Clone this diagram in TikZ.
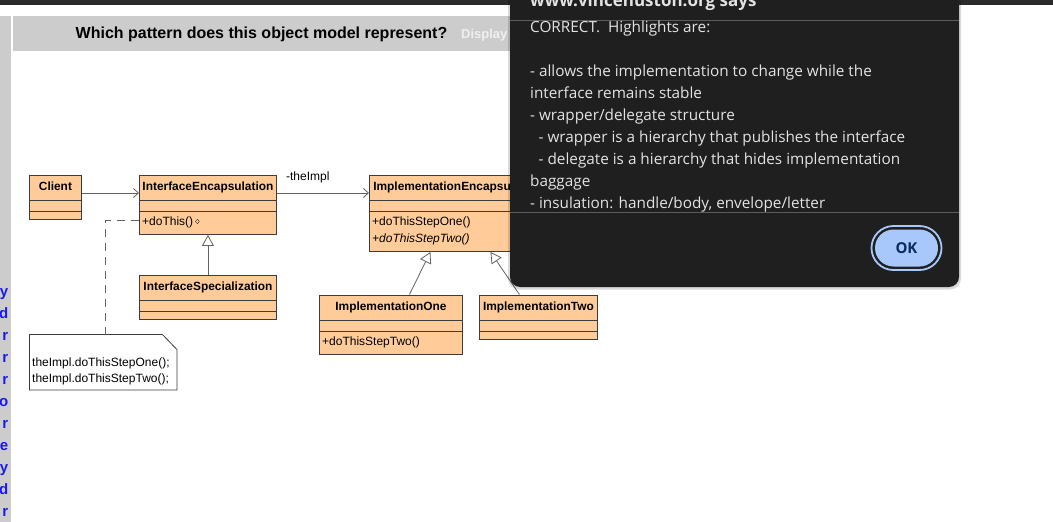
\documentclass[tikz,border=0pt]{standalone}
\usepackage{fontspec}
\setmainfont{Liberation Sans}
\newfontfamily\dlgfont{Open Sans}
\definecolor{BoxFill}{HTML}{FFCC99}
\definecolor{BoxLine}{HTML}{3C3C3C}
\definecolor{PageGray}{HTML}{CCCCCC}
\definecolor{TopBar}{HTML}{2B2B2B}
\definecolor{DlgBack}{HTML}{1F1F1F}
\definecolor{DlgText}{HTML}{E3E3E3}
\definecolor{DlgRule}{HTML}{5C5C5C}
\definecolor{OkBlue}{HTML}{A8C7FA}
\definecolor{OkText}{HTML}{0B2A5E}
\definecolor{LinkBlue}{HTML}{1A1AEE}
\usepackage{tikz}
\usetikzlibrary{arrows.meta, calc, shapes.misc}

\begin{document}
\begin{tikzpicture}[x=1pt, y=-1pt,
    classbox/.style={draw=BoxLine, fill=BoxFill, line width=0.9pt, inner sep=0pt, anchor=north west},
    classname/.style={font=\fontsize{11.9}{13}\selectfont\bfseries, anchor=base, inner sep=0pt},
    member/.style={font=\fontsize{12}{14}\selectfont, anchor=base west, inner sep=0pt},
    assoc/.style={draw=BoxLine!80, line width=0.8pt, -{Straight Barb[length=5pt, width=9pt]}},
    generalise/.style={draw=BoxLine!80, line width=0.8pt, -{Triangle[open, length=11pt, width=12pt]}},
    noteline/.style={draw=BoxLine!80, line width=0.8pt, dash pattern=on 8pt off 6pt},
    dlgline/.style={font=\dlgfont\fontsize{15.3}{18}\selectfont, text=DlgText, anchor=base west, inner sep=0pt}]
  \useasboundingbox (0,0) rectangle (1053,522);
  \clip (0,0) rectangle (1053,522);
  \fill[white] (0,0) rectangle (1053,522);

  % Page behind the dialog
  \fill[TopBar] (0,0) rectangle (1053,5);
  \fill[PageGray] (0,16) rectangle (11,522);
  \fill[PageGray] (13,16) rectangle (560,51);
  \node[font=\fontsize{16}{19}\selectfont\bfseries, anchor=base, inner sep=0pt] (question) at (261.5,38.7)
    {Which pattern does this object model represent?};
  \node[font=\fontsize{13}{15}\selectfont\bfseries, text=white!94!black, anchor=base west, inner sep=0pt] (display) at (461,38)
    {Display};
  \foreach \ch [count=\i from 0] in {y,d,r,r,r,o,r,e,y,d,r}
    \node[font=\fontsize{15}{17}\selectfont\bfseries, text=LinkBlue, anchor=base east, inner sep=0pt] (edge\i) at (8.5,296+22*\i) {\ch};

  % Classes
  \node[classbox, minimum width=52pt, minimum height=44.5pt] (client) at (29,174.5) {};
  \node[classbox, minimum width=137pt, minimum height=59.5pt] (ifenc) at (139,174.5) {};
  \node[classbox, minimum width=137pt, minimum height=44.5pt] (ifspec) at (139,274.5) {};
  \node[classbox, minimum width=177pt, minimum height=76.5pt] (implenc) at (369,174.5) {};
  \node[classbox, minimum width=143pt, minimum height=59.5pt] (implone) at (319,294.5) {};
  \node[classbox, minimum width=118pt, minimum height=44.5pt] (impltwo) at (479,294.5) {};
  \foreach \c in {client,ifenc,ifspec,implenc,implone,impltwo} {
    \draw[BoxLine, line width=0.9pt] ($(\c.north west)+(0,26)$) -- ($(\c.north east)+(0,26)$);
    \draw[BoxLine, line width=0.9pt] ($(\c.north west)+(0,37)$) -- ($(\c.north east)+(0,37)$);
  }
  \node[classname] (clientname) at ($(client.north)+(0,16.3)$) {Client};
  \node[classname] (ifencname) at ($(ifenc.north)+(0,16.3)$) {InterfaceEncapsulation};
  \node[classname] (ifspecname) at ($(ifspec.north)+(0,16.3)$) {InterfaceSpecialization};
  \node[classname] (implencname) at ($(implenc.north)+(0,16.3)$) {ImplementationEncapsulation};
  \node[classname] (implonename) at ($(implone.north)+(0,16.3)$) {ImplementationOne};
  \node[classname] (impltwoname) at ($(impltwo.north)+(0,16.3)$) {ImplementationTwo};

  % Operations
  \node[member] (dothis) at ($(ifenc.north west)+(3,51)$) {+doThis()};
  \draw[BoxLine, line width=0.4pt] ($(dothis.base east)+(2,-4)$) -- ++(2,-2.2) -- ++(2,2.2) -- ++(-2,2.2) -- cycle;
  \node[member] (stepone) at ($(implenc.north west)+(3,51)$) {+doThisStepOne()};
  \node[member, font=\fontsize{12}{14}\selectfont\itshape] (steptwo) at ($(implenc.north west)+(3,68)$) {+doThisStepTwo()};
  \node[member] (onesteptwo) at ($(implone.north west)+(3,51)$) {+doThisStepTwo()};

  % Associations
  \coordinate (clientout) at ($(client.north east)+(0,18.5)$);
  \draw[assoc] (clientout) -- (clientout -| ifenc.west);
  \coordinate (ifencout) at ($(ifenc.north east)+(0,18.5)$);
  \draw[assoc] (ifencout) -- (ifencout -| implenc.west);
  \node[member] (implrole) at ($(ifencout)+(9,-12.5)$) {-theImpl};

  % Generalisations
  \draw[generalise] (ifspec.north) -- (ifspec.north |- ifenc.south);
  \draw[generalise] ([xshift=18.5pt]implone.north) -- ([xshift=-27.5pt]implenc.south);
  \draw[generalise] ([xshift=-19pt]impltwo.north) -- ([xshift=32.5pt]implenc.south);

  % Note on doThis()
  \node[inner sep=0pt, minimum width=147pt, minimum height=55pt, anchor=north west] (note) at (29.5,334.5) {};
  \draw[BoxLine, line width=0.8pt, fill=white] (note.north west) -- ($(note.north east)+(-14.5,0)$)
    -- ($(note.north east)+(0,15)$) -- (note.south east) -- (note.south west) -- cycle;
  \node[member] (noteone) at ($(note.north west)+(2.5,32)$) {theImpl.doThisStepOne();};
  \node[member] (notetwo) at ($(note.north west)+(2.5,48)$) {theImpl.doThisStepTwo();};
  \coordinate (notehook) at ($(note.north west)+(75.5,0)$);
  \coordinate (opdot) at ($(ifenc.north west)+(0,45.5)$);
  \draw[noteline] (notehook) |- (opdot);

  % Alert dialog
  \fill[black, opacity=0.15, rounded corners=11pt] (508,-20) rectangle (961,289.5);
  \fill[DlgBack, rounded corners=10pt] (510,-20) rectangle (959,287);
  \draw[DlgRule, line width=0.8pt] (510,20.5) -- (959,20.5);
  \draw[DlgRule, line width=0.8pt] (510,212) -- (959,212);
  \node[font=\dlgfont\fontsize{17}{20}\selectfont\bfseries, text=DlgText, anchor=base west, inner sep=0pt] (dlgtitle) at (530,6)
    {www.vincehuston.org says};
  \node[dlgline] (msga) at (530,32) {CORRECT.\ \ Highlights are:};
  \node[dlgline] (msgb) at (530,76) {- allows the implementation to change while the};
  \node[dlgline] (msgc) at (530,98) {interface remains stable};
  \node[dlgline] (msgd) at (530,120) {- wrapper/delegate structure};
  \node[dlgline] (msge) at (530,142) {\hspace*{8.5pt}- wrapper is a hierarchy that publishes the interface};
  \node[dlgline] (msgf) at (530,164) {\hspace*{8.5pt}- delegate is a hierarchy that hides implementation};
  \node[dlgline] (msgg) at (530,186) {baggage};
  \node[dlgline] (msgh) at (530,208) {- insulation: handle/body, envelope/letter};
  \node[rounded rectangle, draw=OkBlue, line width=1.8pt, fill=DlgBack, minimum width=70pt, minimum height=44pt, inner sep=0pt] (okring) at (906.5,248) {};
  \node[rounded rectangle, fill=OkBlue, minimum width=63pt, minimum height=37pt, inner sep=0pt,
    font=\dlgfont\fontsize{15}{18}\selectfont\bfseries, text=OkText] (okbtn) at (okring.center) {OK};
\end{tikzpicture}
\end{document}
